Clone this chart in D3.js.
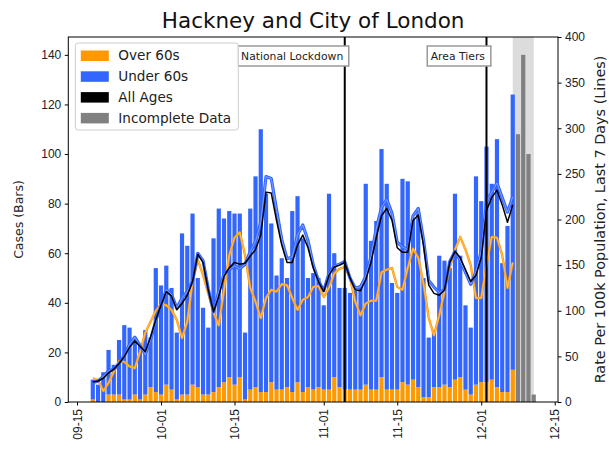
<!DOCTYPE html>
<html>
<head>
<meta charset="utf-8">
<script src="https://cdn.jsdelivr.net/npm/d3@7"></script>
<style>
  body { margin: 0; background: #fff; }
  svg { font-family: "DejaVu Sans", sans-serif; }
  .tick text { fill: #222; }
</style>
</head>
<body>
<div id="vis"></div>
<script>
// daily cases, 2020-09-18 .. 2020-12-07 (complete), then 4 incomplete days
var firstDay = '2020-09-18';
var over60 = [1, 0, 0, 3, 3, 3, 1, 1, 3, 1, 3, 6,
    4, 3, 7, 5, 1, 3, 3, 7, 6, 3, 3, 4, 6, 8, 10, 7,
    10, 1, 5, 6, 4, 4, 8, 5, 5, 6, 4, 8, 4, 6,
    5, 6, 5, 5, 10, 6, 5, 5, 5, 5, 7, 5, 5, 10, 5, 5,
    5, 8, 7, 9, 6, 2, 2, 6, 6, 7, 6, 9, 10, 5, 3,
    7, 8, 8, 9, 6, 4, 4, 13];
var under60 = [8, 7, 12, 18, 12, 22, 30, 29, 23, 22, 26, 20,
    50, 44, 48, 41, 27, 65, 60, 69, 44, 35, 27, 62, 72, 66, 67, 69,
    66, 27, 73, 85, 106, 80, 64, 46, 53, 44, 73, 75, 62, 44,
    47, 44, 34, 79, 50, 40, 41, 39, 40, 42, 81, 60, 68, 92, 83, 43,
    39, 82, 82, 65, 70, 48, 24, 23, 53, 50, 48, 75, 49, 34, 27,
    84, 73, 95, 79, 100, 52, 67, 111];
var incomplete = [108, 140, 100, 3];

// 7-day rate per 100k (lines)
var rateOver60 = [26, 24, 12, 21, 33, 45, 44, 39, 37, 55, 76, 88,
    100, 107, 106, 101, 90, 70, 88, 132, 156, 139, 119, 98, 84, 123, 161, 180,
    186, 161, 125, 110, 92, 114, 123, 121, 129, 128, 114, 101, 112, 115,
    126, 127, 115, 125, 141, 146, 148, 136, 110, 95, 108, 111, 111, 142, 145, 147,
    126, 123, 147, 168, 158, 130, 92, 73, 95, 121, 147, 167, 181, 167, 150,
    114, 114, 150, 181, 180, 161, 125, 153];
var rateUnder60 = [21, 23, 28, 34, 36, 42, 51, 63, 71, 62, 52, 68,
    89, 106, 123, 118, 103, 114, 121, 132, 163, 155, 124, 99, 121, 140, 145, 149,
    146, 151, 165, 176, 197, 247, 245, 211, 178, 157, 159, 183, 194, 177,
    150, 133, 122, 141, 149, 151, 154, 136, 125, 126, 138, 159, 190, 213, 222, 207,
    175, 170, 167, 204, 212, 178, 133, 126, 120, 123, 154, 165, 155, 142, 129,
    143, 165, 219, 230, 240, 224, 208, 225];
var rateAll = [22, 23, 26, 32, 36, 42, 50, 60, 67, 61, 55, 71,
    90, 106, 121, 116, 101, 108, 117, 132, 162, 153, 123, 99, 116, 138, 147, 153,
    151, 152, 160, 167, 183, 230, 229, 199, 172, 153, 153, 172, 183, 169,
    147, 132, 121, 139, 148, 150, 153, 136, 123, 122, 134, 153, 180, 204, 212, 199,
    169, 164, 164, 199, 205, 172, 128, 119, 117, 123, 153, 165, 158, 145, 132,
    139, 158, 210, 224, 232, 216, 197, 216];

var leftTicks = [0, 20, 40, 60, 80, 100, 120, 140];
var rightTicks = [0, 50, 100, 150, 200, 250, 300, 350, 400];
var xTickDates = ['2020-09-15', '2020-10-01', '2020-10-15', '2020-11-01', '2020-11-15', '2020-12-01', '2020-12-15'];
var legendNames = ['Over 60s', 'Under 60s', 'All Ages', 'Incomplete Data'];
var legendColors = ['#ff9900', '#3366ff', '#000000', '#808080'];
var events = [{date: '2020-11-05', label: 'National Lockdown'}, {date: '2020-12-02', label: 'Area Tiers'}];

var parse = d3.timeParse('%Y-%m-%d');
var start = parse(firstDay);
var days = d3.range(under60.length).map((i) => d3.timeDay.offset(start, i));
var incDays = incomplete.map((v, i) => d3.timeDay.offset(start, under60.length + i));

var width = 609, height = 453;
var margin = {left: 68.3, right: 51, top: 37, bottom: 51};
var drawWidth = width - margin.left - margin.right,
    drawHeight = height - margin.top - margin.bottom;

var svg = d3.select('#vis').append('svg')
    .attr('width', width)
    .attr('height', height);
var g = svg.append('g')
    .attr('transform', `translate(${margin.left}, ${margin.top})`);

var t0 = parse('2020-09-15');
var xScale = d3.scaleTime()
    .domain([d3.timeHour.offset(t0, -39.4), d3.timeHour.offset(t0, 91.64 * 24)])
    .range([0, drawWidth]);
var yScale = d3.scaleLinear().domain([0, 147.2]).range([drawHeight, 0]);
var yRate = d3.scaleLinear().domain([0, 400]).range([drawHeight, 0]);

var dayW = xScale(d3.timeDay.offset(t0, 1)) - xScale(t0);
var barW = dayW * 0.8;

// shaded span for incomplete data
g.append('rect')
    .attr('x', xScale(parse('2020-12-07')))
    .attr('y', 0)
    .attr('width', xScale(parse('2020-12-11')) - xScale(parse('2020-12-07')))
    .attr('height', drawHeight)
    .attr('fill', '#dcdcdc');

// bars
g.selectAll('.over').data(over60).enter().append('rect')
    .attr('x', (d, i) => xScale(days[i]) - barW / 2)
    .attr('y', (d) => yScale(d))
    .attr('width', barW)
    .attr('height', (d) => drawHeight - yScale(d))
    .attr('fill', '#ff9900');
g.selectAll('.under').data(under60).enter().append('rect')
    .attr('x', (d, i) => xScale(days[i]) - barW / 2)
    .attr('y', (d, i) => yScale(d + over60[i]))
    .attr('width', barW)
    .attr('height', (d, i) => yScale(over60[i]) - yScale(d + over60[i]))
    .attr('fill', '#3366ff');
g.selectAll('.inc').data(incomplete).enter().append('rect')
    .attr('x', (d, i) => xScale(incDays[i]) - barW / 2)
    .attr('y', (d) => yScale(d))
    .attr('width', barW)
    .attr('height', (d) => drawHeight - yScale(d))
    .attr('fill', '#808080');

// rate lines
var line = d3.line()
    .x((d, i) => xScale(days[i]))
    .y((d) => yRate(d));

var drawLine = (data, color, w, op) => {
    g.append('path').datum(data)
        .attr('d', line)
        .attr('fill', 'none')
        .attr('stroke', color)
        .attr('stroke-width', w)
        .attr('stroke-opacity', op || 1)
        .attr('stroke-linejoin', 'round');
};
drawLine(rateOver60, '#ff9900', 2.4);
drawLine(rateOver60, '#ffd9a0', 0.7, 0.8);
drawLine(rateUnder60, '#3366ff', 3.2);
drawLine(rateUnder60, '#a8bfff', 0.8, 0.8);
drawLine(rateAll, '#000', 1.5);

// event lines and labels
events.forEach((e) => {
    var ex = xScale(parse(e.date));
    g.append('line')
        .attr('x1', ex).attr('x2', ex)
        .attr('y1', 0).attr('y2', drawHeight)
        .attr('stroke', '#000')
        .attr('stroke-width', 2);
    var box = g.append('rect');
    var txt = g.append('text')
        .attr('x', ex - 1.5)
        .attr('y', 23)
        .attr('text-anchor', 'end')
        .attr('font-size', 10.8)
        .attr('fill', '#222')
        .text(e.label);
    var bb = txt.node().getBBox();
    box.attr('x', bb.x - 3.5)
        .attr('y', 9)
        .attr('width', bb.width + 9)
        .attr('height', 20)
        .attr('fill', '#fff')
        .attr('stroke', '#999')
        .attr('stroke-width', 1.5);
});

// axes
var xAxis = d3.axisBottom(xScale)
    .tickValues(xTickDates.map(parse))
    .tickFormat(d3.timeFormat('%m-%d'))
    .tickSizeOuter(0)
    .tickSize(3.5)
    .tickPadding(3.5);
var xg = g.append('g')
    .attr('transform', `translate(0, ${drawHeight})`)
    .call(xAxis);
xg.selectAll('text')
    .attr('transform', 'rotate(-90)')
    .attr('text-anchor', 'end')
    .attr('x', -7)
    .attr('y', 0)
    .attr('dy', '0.35em')
    .attr('font-size', 12);

var yAxis = d3.axisLeft(yScale).tickValues(leftTicks).tickSize(3.5).tickPadding(3.5).tickSizeOuter(0);
g.append('g').call(yAxis).selectAll('text').attr('font-size', 12);

var rAxis = d3.axisRight(yRate).tickValues(rightTicks).tickSize(3.5).tickPadding(3.5).tickSizeOuter(0);
g.append('g').attr('transform', `translate(${drawWidth}, 0)`)
    .call(rAxis).selectAll('text').attr('font-size', 12);

g.selectAll('.domain').remove();
g.append('rect')
    .attr('width', drawWidth).attr('height', drawHeight)
    .attr('fill', 'none').attr('stroke', '#000').attr('stroke-width', 1);

// legend
var lg = g.append('g').attr('transform', 'translate(7, 6)');
lg.append('rect')
    .attr('width', 163).attr('height', 87)
    .attr('rx', 3)
    .attr('fill', '#fff').attr('fill-opacity', 0.85)
    .attr('stroke', '#ccc');
legendNames.forEach((name, i) => {
    lg.append('rect')
        .attr('x', 5.5).attr('y', 7.5 + i * 20.8)
        .attr('width', 28).attr('height', 10.5)
        .attr('fill', legendColors[i]);
    lg.append('text')
        .attr('x', 43).attr('y', 12.7 + i * 20.8)
        .attr('dy', '0.35em')
        .attr('font-size', 13.6)
        .attr('fill', '#222')
        .text(name);
});

// titles
svg.append('text')
    .attr('x', margin.left + drawWidth / 2)
    .attr('y', 28)
    .attr('text-anchor', 'middle')
    .attr('font-size', 21.5)
    .attr('fill', '#111')
    .text('Hackney and City of London');
svg.append('text')
    .attr('transform', `translate(19, ${margin.top + drawHeight / 2}) rotate(-90)`)
    .attr('text-anchor', 'middle')
    .attr('dy', '0.35em')
    .attr('font-size', 12.5)
    .attr('fill', '#222')
    .text('Cases (Bars)');
svg.append('text')
    .attr('transform', `translate(599.5, ${margin.top + drawHeight / 2}) rotate(-90)`)
    .attr('text-anchor', 'middle')
    .attr('dy', '0.35em')
    .attr('font-size', 14.4)
    .attr('fill', '#222')
    .text('Rate Per 100k Population, Last 7 Days (Lines)');
</script>
</body>
</html>
